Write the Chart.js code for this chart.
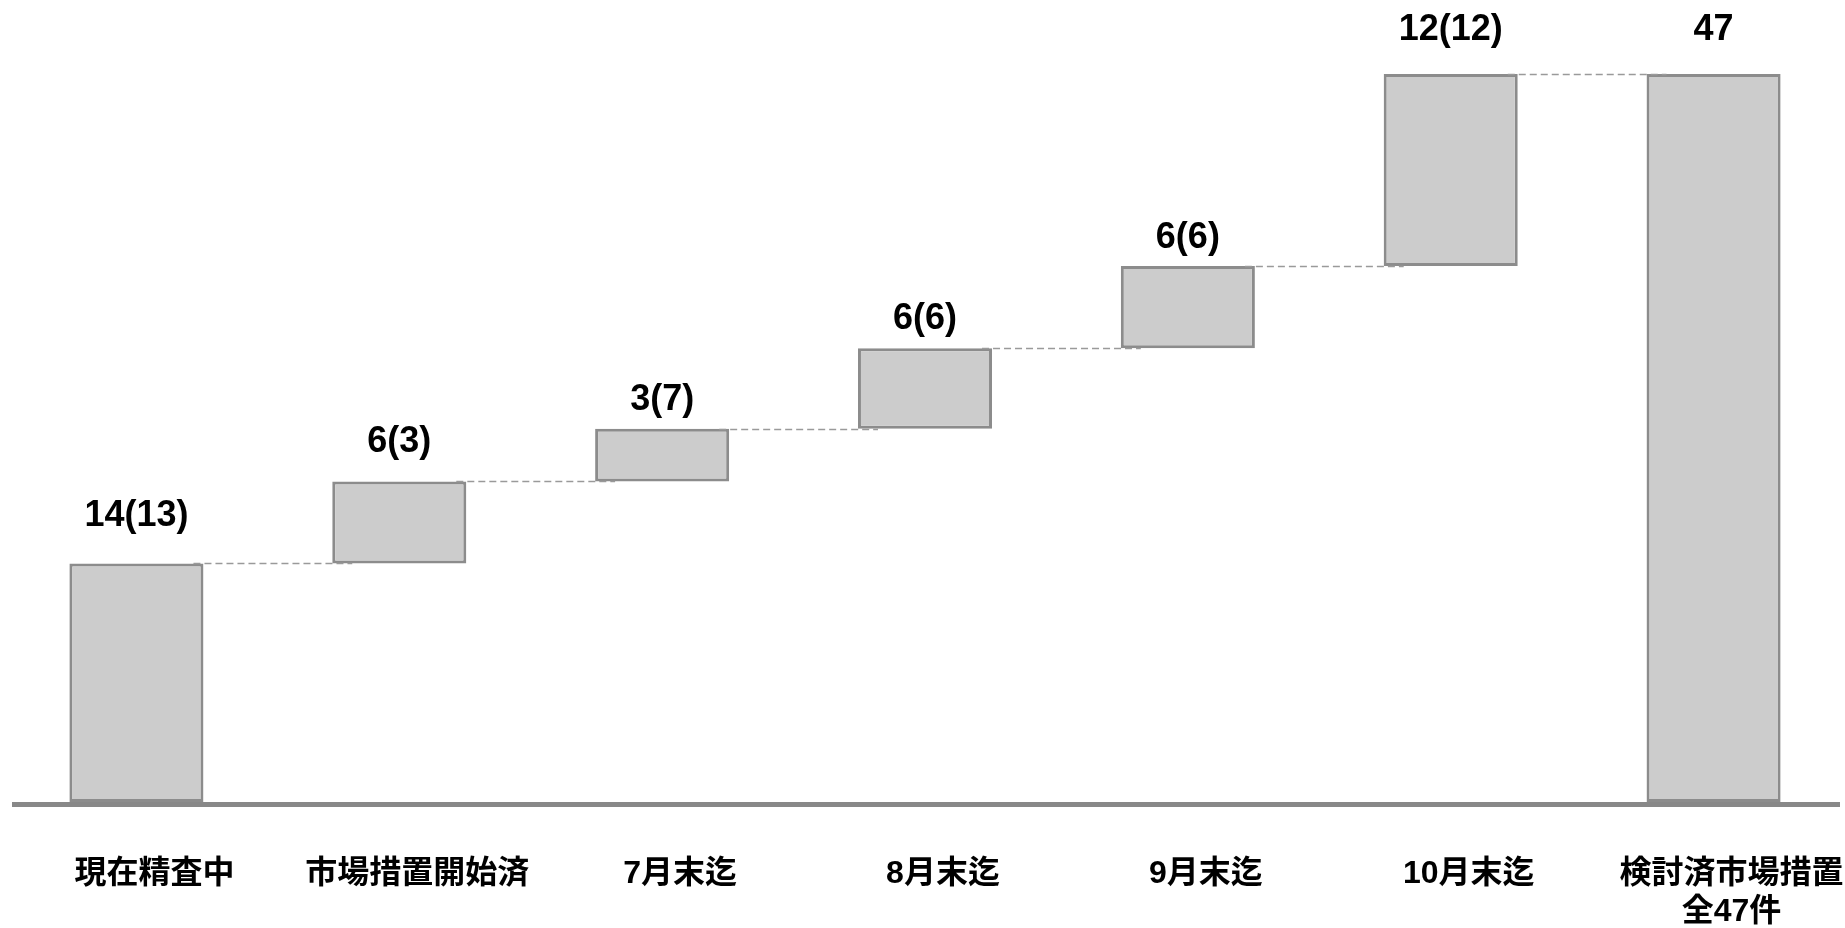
<!DOCTYPE html>
<html><head><meta charset="utf-8">
<script src="https://cdn.jsdelivr.net/npm/chart.js@4.4.0/dist/chart.umd.min.js"></script>
<style>html,body{margin:0;padding:0;background:#fff;overflow:hidden}</style>
</head><body>
<canvas id="c" width="1845" height="928"></canvas>
<script>
const categories = ['現在精査中', '市場措置開始済', '7月末迄', '8月末迄', '9月末迄', '10月末迄', ['検討済市場措置', '全47件']];
const stepStarts = [0, 15.4, 20.7, 24.1, 29.3, 34.6, 0];
const stepEnds = [15.4, 20.7, 24.1, 29.3, 34.6, 47, 47];
const valueLabels = ['14(13)', '6(3)', '3(7)', '6(6)', '6(6)', '12(12)', '47'];

const FONT = '"Liberation Sans", Arial, "Noto Sans CJK JP", sans-serif';

const waterfallDecor = {
  id: 'waterfallDecor',
  afterDatasetsDraw(chart, args, opts) {
    const ctx = chart.ctx;
    const meta = chart.getDatasetMeta(0);
    const y = chart.scales.y;
    ctx.save();
    // connectors
    ctx.strokeStyle = '#9a9a9a';
    ctx.lineWidth = 1.5;
    ctx.setLineDash([7, 4]);
    for (let i = 0; i < meta.data.length - 1; i++) {
      const a = meta.data[i], b = meta.data[i + 1];
      const py = Math.round(y.getPixelForValue(stepEnds[i])) + 0.5;
      ctx.beginPath();
      ctx.moveTo(a.x + a.width / 2 - 10, py);
      ctx.lineTo(b.x - b.width / 2 + 20, py);
      ctx.stroke();
    }
    ctx.setLineDash([]);
    // baseline
    const y0 = y.getPixelForValue(0);
    ctx.fillStyle = '#888888';
    ctx.fillRect(12, y0, 1828, 5);
    // value labels
    ctx.fillStyle = '#000';
    ctx.font = 'bold 36px ' + FONT;
    ctx.textAlign = 'center';
    ctx.textBaseline = 'alphabetic';
    meta.data.forEach((bar, i) => {
      const top = Math.min(bar.y, bar.base);
      ctx.fillText(valueLabels[i], bar.x, top - opts.lift[i]);
    });
    ctx.restore();
  }
};

new Chart(document.getElementById('c'), {
  type: 'bar',
  data: {
    labels: categories,
    datasets: [{
      data: categories.map((_, i) => [stepStarts[i], stepEnds[i]]),
      backgroundColor: '#cccccc',
      borderColor: '#8c8c8c',
      borderWidth: 3,
      borderSkipped: false,
      categoryPercentage: 1,
      barPercentage: 0.51
    }]
  },
  options: {
    responsive: false,
    animation: false,
    devicePixelRatio: 1,
    layout: { padding: { left: 5, right: 0, top: 0, bottom: 0 } },
    plugins: {
      legend: { display: false },
      tooltip: { enabled: false },
      waterfallDecor: { lift: [37, 29, 19, 19, 18, 34, 34] }
    },
    scales: {
      x: {
        grid: { display: false, drawTicks: false },
        border: { display: false },
        ticks: {
          color: '#000',
          font: { family: FONT, size: 32, weight: 'bold', lineHeight: 1.2 },
          padding: 53,
          labelOffset: 18,
          maxRotation: 0,
          autoSkip: false
        },
        afterFit(s) { s.height = 126; s.paddingLeft = 0; s.paddingRight = 0; }
      },
      y: { display: false, min: 0, max: 51.78 }
    }
  },
  plugins: [waterfallDecor]
});
</script>
</body></html>
